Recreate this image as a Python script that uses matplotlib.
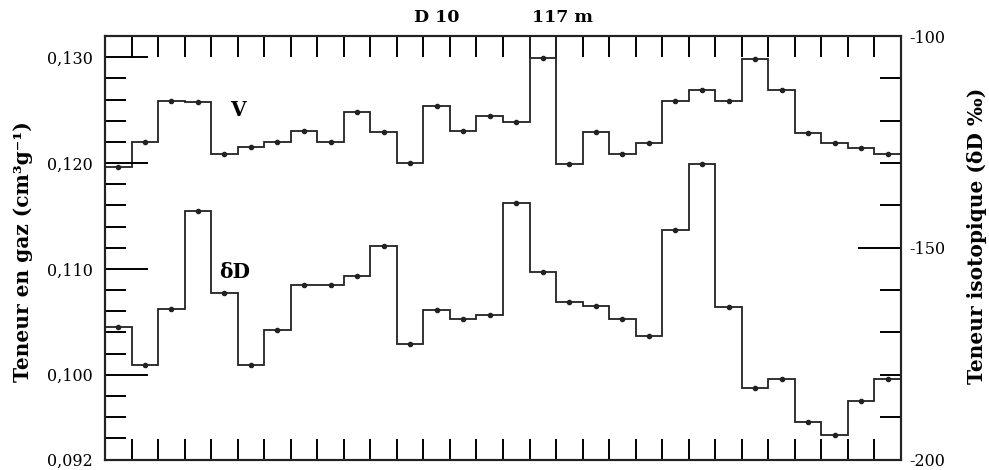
"""Gas content (V) and deuterium (dD) profile along core D10
"""
import matplotlib
matplotlib.use('Agg')
import matplotlib.pyplot as plt
import numpy as np

plt.rcParams['font.family'] = ['DejaVu Serif']
plt.rcParams['axes.unicode_minus'] = False

# sample intervals along the core (30 consecutive samples)
edges = np.arange(0, 31)

# gas content, cm3/g
gas_v = [0.1196, 0.1220, 0.1259, 0.1258, 0.1209, 0.1215, 0.1220, 0.1230,
         0.1220, 0.1248, 0.1229, 0.1200, 0.1254, 0.1230, 0.1244, 0.1239,
         0.1299, 0.1199, 0.1229, 0.1209, 0.1219, 0.1259, 0.1269, 0.1259,
         0.1298, 0.1269, 0.1228, 0.1219, 0.1214, 0.1209]

# isotopic content, dD permil
delta_d = [-168.8, -177.7, -164.4, -141.4, -160.7, -177.8, -169.5, -158.7,
           -158.7, -156.7, -149.6, -172.7, -164.6, -166.8, -165.8, -139.5,
           -155.7, -162.8, -163.8, -166.9, -170.8, -145.7, -130.3, -163.9,
           -183.1, -181.1, -191.2, -194.2, -186.3, -181.0]

# boundaries of the 117 m section
section_breaks = [16, 17]

left_ticks = [0.092, 0.100, 0.110, 0.120, 0.130]
left_labels = ['0,092', '0,100', '0,110', '0,120', '0,130']
right_ticks = [-200, -150, -100]
right_labels = ['-200', '-150', '-100']

W, H = 989, 470
fig = plt.figure(figsize=(W / 100, H / 100), dpi=100)
ax = fig.add_axes([105 / W, 1 - 459.5 / H, 796 / W, 423.5 / H])
ax2 = ax.twinx()

ink = '#222222'
centers = edges[:-1] + 0.5
ax.stairs(gas_v, edges, baseline=None, color=ink, linewidth=1.3)
ax.plot(centers, gas_v, 'o', color=ink, markersize=3)
ax.vlines(section_breaks, gas_v[16], 0.132, color=ink, linewidth=1.3)

ax2.stairs(delta_d, edges, baseline=None, color=ink, linewidth=1.3)
ax2.plot(centers, delta_d, 'o', color=ink, markersize=3)

ax.set_xlim(0, 30)
ax.set_ylim(0.092, 0.132)
ax2.set_ylim(-200, -100)

# ticks all pointing inwards
ax.set_xticks(np.arange(1, 30))
ax.set_xticklabels([])
ax.tick_params(axis='x', which='both', direction='in', top=True, bottom=True,
               length=15, width=1.4, labelbottom=False)
ax.set_yticks(left_ticks)
ax.set_yticklabels(left_labels)
ax.set_yticks(np.arange(0.094, 0.131, 0.002), minor=True)
ax.tick_params(axis='y', which='major', direction='in', length=31, width=1.4,
               pad=9, labelsize=11.5)
ax.tick_params(axis='y', which='minor', direction='in', length=15, width=1.4)

ax2.set_yticks(right_ticks)
ax2.set_yticklabels(right_labels)
ax2.set_yticks(np.arange(-190, -100, 10), minor=True)
ax2.tick_params(axis='y', which='major', direction='in', length=31, width=1.4,
                pad=6, labelsize=11.5)
ax2.tick_params(axis='y', which='minor', direction='in', length=15, width=1.4)

for a in (ax, ax2):
    for s in a.spines.values():
        s.set_linewidth(1.5)
        s.set_color(ink)

# curve labels
ax.text(5, 0.1250, 'V', fontsize=14.5, fontweight='bold', ha='center', va='center')
ax2.text(4.9, -155.8, 'δD', fontsize=14.5, fontweight='bold', ha='center', va='center')

# core / depth annotation above the frame
fig.text(437 / W, 1 - 18 / H, 'D 10', fontsize=12.5, fontweight='bold',
         ha='center', va='center')
fig.text(562 / W, 1 - 18 / H, '117 m', fontsize=12.5, fontweight='bold',
         ha='center', va='center')

fig.text(23 / W, 1 - 252 / H, 'Teneur en gaz (cm³g⁻¹)', fontsize=14.5,
         fontweight='bold', rotation=90, ha='center', va='center')
fig.text(977 / W, 1 - 236 / H, 'Teneur isotopique (δD ‰)', fontsize=14.5,
         fontweight='bold', rotation=90, ha='center', va='center')

fig.savefig('out.png', dpi=100)
